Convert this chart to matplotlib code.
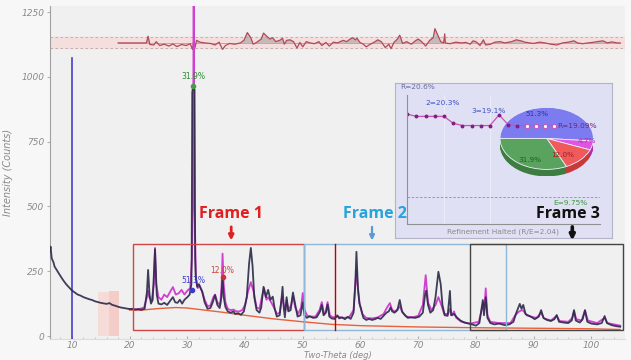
import matplotlib
matplotlib.use('Agg')
import matplotlib.pyplot as plt
import numpy as np
from matplotlib.patches import Rectangle, Wedge, FancyArrowPatch

obs_tt = [6.2, 6.3, 6.5, 6.8, 7.0, 7.5, 8.0, 8.5, 9.0, 9.5, 10.0, 10.5, 11.0, 11.5, 12.0, 12.5,
          13.0, 13.5, 14.0, 14.5, 15.0, 15.5, 16.0, 16.5, 17.0, 17.5, 18.0, 18.5, 19.0, 19.5,
          20.0, 20.5, 21.0, 21.5, 22.0, 22.6, 23.0, 23.2, 23.45, 23.7, 24.0, 24.4, 24.7, 25.0,
          25.5, 26.0, 26.5, 27.0, 27.5, 27.9, 28.3, 28.7, 29.1, 29.5, 30.0, 30.4, 30.7, 30.75,
          30.85, 31.0, 31.25, 31.35, 31.45, 31.7, 32.0, 32.3, 32.6, 33.0, 33.5, 34.0, 34.4, 34.8,
          35.2, 35.6, 35.9, 36.1, 36.3, 36.6, 37.0, 37.5, 38.0, 38.3, 38.8, 39.3, 39.8, 40.3,
          40.7, 41.0, 41.3, 41.6, 42.0, 42.5, 42.8, 43.2, 43.6, 44.0, 44.4, 44.8, 45.1, 45.5,
          46.0, 46.3, 46.5, 46.7, 46.9, 47.2, 47.5, 47.9, 48.3, 48.7, 49.1, 49.6, 50.0, 50.3,
          50.7, 51.2, 51.8, 52.4, 53.0, 53.3, 53.6, 54.0, 54.3, 54.6, 55.0, 55.5, 56.0, 56.3,
          56.8, 57.3, 57.8, 58.3, 58.8, 59.1, 59.3, 59.55, 59.8, 60.1, 60.5, 61.0, 61.5, 62.0,
          62.5, 63.0, 63.5, 64.0, 64.5, 64.9, 65.2, 65.5, 65.9, 66.4, 66.8, 67.2, 67.7, 68.2,
          68.8, 69.5, 70.2, 70.8, 71.2, 71.4, 71.7, 72.1, 72.6, 73.0, 73.5, 73.9, 74.2, 74.6,
          75.1, 75.4, 75.5, 75.7, 76.2, 76.7, 77.3, 78.0, 78.7, 79.3, 80.0, 80.6, 81.0, 81.2,
          81.4, 81.7, 82.0, 82.5, 83.2, 84.0, 85.0, 85.8, 86.5, 87.0, 87.6, 87.9, 88.2, 88.6,
          89.0, 89.5, 90.2, 90.9, 91.3, 91.7, 92.3, 93.0, 93.6, 94.0, 94.4, 95.2, 96.0, 96.6,
          97.0, 97.3, 98.0, 98.5, 98.9, 99.3, 100.0, 101.0, 101.8, 102.3, 102.7, 103.5, 104.3, 105.0]
obs_i = [330, 345, 300, 285, 268, 250, 232, 215, 200, 188, 176, 168, 160, 156, 150, 146,
         142, 139, 134, 131, 128, 126, 124, 127, 120, 117, 113, 110, 108, 106,
         104, 105, 102, 104, 101, 105, 170, 255, 160, 125, 140, 335, 160, 125,
         122, 128, 120, 135, 150, 130, 128, 140, 125, 140, 150, 160, 200, 300,
         940, 965, 950, 300, 230, 190, 200, 185, 170, 130, 105, 108, 130, 158,
         120, 108, 150, 228, 150, 112, 95, 90, 95, 85, 88, 82, 95, 150,
         280, 340, 270, 150, 100, 90, 110, 190, 150, 178, 140, 152, 110, 75,
         80, 140, 190, 110, 72, 150, 95, 100, 168, 120, 75, 80, 130, 80,
         70, 76, 70, 72, 95, 120, 80, 90, 122, 75, 68, 66, 80, 68,
         72, 65, 74, 66, 90, 200, 325, 190, 127, 105, 70, 62, 66, 62,
         65, 70, 66, 78, 90, 95, 110, 95, 90, 100, 139, 95, 80, 70,
         72, 70, 75, 90, 160, 175, 120, 90, 100, 150, 248, 200, 120, 80,
         78, 150, 174, 80, 85, 72, 60, 52, 48, 45, 40, 50, 110, 139,
         80, 150, 70, 50, 45, 48, 42, 45, 55, 90, 124, 105, 120, 85,
         80, 75, 65, 75, 100, 70, 62, 58, 65, 81, 55, 52, 50, 60,
         100, 60, 52, 65, 100, 55, 48, 45, 50, 77, 50, 42, 38, 36]

# calculated pattern
calc_tt = [20.0, 21.5, 22.5, 23.0, 23.2, 23.4, 23.8, 24.2, 24.4, 24.6, 25.0, 25.5, 26.0, 26.5,
           27.0, 27.5, 28.0, 28.5, 29.0, 29.5, 30.0, 30.5, 30.8, 30.95, 31.1, 31.25, 31.5,
           31.8, 32.1, 32.5, 33.0, 33.5, 34.0, 34.5, 34.8, 35.2, 35.7, 35.95, 36.1, 36.3,
           36.6, 37.0, 37.5, 38.0, 38.5, 39.0, 39.5, 40.0, 40.5, 41.0, 41.5, 42.0, 42.5,
           43.0, 43.3, 43.7, 44.0, 44.5, 45.0, 45.5, 46.0, 46.4, 46.6, 47.0, 47.2, 47.5,
           48.0, 48.3, 48.7, 49.2, 49.7, 50.0, 50.3, 50.8, 51.5, 52.2, 52.9, 53.3, 53.7,
           54.0, 54.3, 54.7, 55.2, 56.0, 57.0, 58.0, 58.8, 59.1, 59.3, 59.6, 59.9, 60.3,
           61.0, 62.0, 63.0, 64.0, 64.6, 65.1, 65.5, 66.0, 66.5, 66.8, 67.3, 68.0, 69.0,
           70.0, 70.8, 71.3, 71.7, 72.3, 73.0, 73.5, 74.0, 74.5, 75.2, 75.5, 75.9, 76.2,
           76.6, 77.5, 79.0, 80.5, 81.0, 81.3, 81.5, 81.7, 82.0, 82.5, 84.0, 86.0, 86.8,
           87.5, 88.0, 88.3, 88.8, 89.5, 90.5, 91.3, 91.8, 93.0, 94.0, 94.5, 96.0, 96.7,
           97.0, 97.4, 98.3, 98.9, 99.4, 101.0, 102.3, 102.8, 105.0]
calc_i = [104, 103, 110, 150, 175, 150, 135, 200, 340, 200, 150, 140, 160, 150,
          170, 189, 160, 165, 178, 160, 175, 185, 300, 500, 1290, 500, 220,
          185, 195, 175, 140, 115, 118, 150, 160, 130, 120, 200, 318, 200,
          130, 105, 100, 102, 95, 95, 100, 120, 170, 208, 170, 110, 105,
          160, 185, 140, 150, 131, 110, 85, 90, 150, 130, 100, 140, 100,
          120, 155, 110, 85, 110, 166, 100, 78, 75, 75, 100, 131, 85,
          95, 131, 80, 72, 75, 70, 72, 100, 200, 255, 170, 120, 85,
          70, 68, 72, 85, 110, 127, 100, 95, 105, 115, 90, 75, 72,
          78, 120, 235, 130, 100, 120, 150, 120, 85, 85, 105, 80, 95,
          70, 55, 48, 55, 100, 130, 120, 184, 80, 55, 50, 50, 80,
          95, 100, 95, 80, 75, 70, 90, 68, 60, 78, 58, 55, 70,
          95, 65, 60, 98, 60, 50, 70, 50, 40]

bg_tt = [20, 22, 25, 28, 30, 33, 36, 40, 45, 50, 55, 60, 70, 80, 90, 100, 105]
bg_i = [100, 100, 106, 110, 108, 100, 92, 80, 66, 55, 45, 40, 35, 32, 30, 28, 25]

# difference curve (deviation from its baseline)
diff_base = 1131
diff_tt = [18, 22.9, 23.2, 23.5, 24.2, 24.6, 25.2, 26, 26.8, 27.5, 28.2, 29, 29.8, 30.5, 30.9,
           31.1, 31.3, 31.6, 32.2, 33, 34, 34.8, 35.5, 36.1, 36.6, 37.3, 38.2, 39.2, 39.8,
           40.4, 41.0, 41.4, 42, 42.8, 43.2, 43.8, 44.3, 44.8, 45.3, 46, 46.5, 46.8, 47.2,
           47.8, 48.4, 49, 49.5, 50, 50.6, 51.3, 52, 52.8, 53.3, 54, 54.6, 55.3, 56, 57,
           57.6, 58.2, 58.7, 59.1, 59.4, 59.9, 60.5, 61, 61.7, 62.4, 63, 63.6, 64.3, 64.9,
           65.3, 65.8, 66.4, 66.8, 67.3, 68, 68.8, 69.5, 70, 70.6, 71.3, 72.0, 72.6, 72.9,
           73.4, 73.9, 74.4, 74.6, 74.7, 75.5, 76.5, 77.5, 78.3, 79, 79.5, 80, 80.7, 81.3,
           81.7, 82.5, 83.3, 84.2, 85, 86.2, 87, 87.8, 88.5, 89.3, 90, 91, 92, 93, 94, 95,
           96, 97, 97.6, 98.5, 99.4, 100.2, 101, 102, 102.8, 103.5, 104.5, 105]
diff_dev = [0, 0, 26, -6, -8, 5, -10, -5, -12, -4, -14, -6, -10, -3, -25,
            8, -20, 10, 3, 0, -2, -8, 3, -25, -10, -2, -5, 0, 10,
            40, 20, -5, 2, 15, 38, 25, 15, 20, 5, 10, 18, -5, 10,
            12, 5, -20, 2, -15, 5, 0, -3, 5, -10, 2, -12, 3, 0, 10,
            5, 15, 20, 12, 18, 2, -5, -15, -5, 3, 12, 5, -18, -5,
            -22, 2, 15, 30, -2, 5, -5, 8, 15, 5, -12, 10, 20, 55,
            30, 5, 0, 35, 0, -3, 3, 0, 2, -5, 8, 5, -10, 12,
            -8, -5, 3, 5, 0, 5, 12, 8, 3, 0, -2, 3, 0, -5, -8, 0,
            3, 8, 0, -3, 0, 2, 5, 8, 0, 4, 0, 0]

# refinement history in the inset
r_iter = list(range(17))
r_vals = [20.6, 20.3, 20.3, 20.3, 20.3, 19.4, 19.1, 19.1, 19.1, 19.1, 20.5, 19.2, 19.1,
          19.09, 19.09, 19.09, 19.09]
e_val = 9.75

phase_names = ['51.3%', '4.7%', '12.0%', '31.9%']
phase_frac = [51.3, 4.7, 12.0, 31.9]
phase_top = ['#7c7cf0', '#e055e0', '#ef5b5b', '#5aa35e']
phase_side = ['#5050c0', '#b030b0', '#c83a3a', '#3d7d41']
phase_txt = ['#3030a0', '#c020c0', '#a02020', '#1f5f1f']

frames = [('Frame 1', 20.6, 50.2, '#d04545', '#e02020', 37.6),
          ('Frame 2', 50.2, 85.2, '#8fb8d8', '#29a3dc', 62.0),
          ('Frame 3', 79.0, 105.5, '#444444', '#111111', 96.7)]

fig = plt.figure(figsize=(6.31, 3.60), dpi=100, facecolor='#f7f7f7')
ax = fig.add_axes([0.0792, 0.0594, 0.911, 0.925])
ax.set_facecolor('#f0f0f0')
ax.set_xlim(6.2, 105.8)
ax.set_ylim(-10, 1275)

# difference band at the top
ax.axhspan(1112, 1154, color='#f4dede', zorder=1)
ax.axhline(1112, color='#b8a8a8', lw=0.6, ls=(0, (3, 3)), zorder=1)
ax.axhline(1154, color='#b8a8a8', lw=0.6, ls=(0, (3, 3)), zorder=1)
d = diff_base + np.array(diff_dev)
ax.fill_between(diff_tt, diff_base, d, where=np.array(diff_dev) > 0, interpolate=True,
                color='#a8a0a0', alpha=0.6, lw=0, zorder=2)
ax.plot([18, 105], [diff_base, diff_base], color='#d89090', lw=0.6, zorder=2)
ax.plot(diff_tt, d, color='#b04a5a', lw=0.9, zorder=3)

# excluded region
ax.fill_between([14.5, 16.5], 0, 170, color='#f6dcd8', lw=0, zorder=1)
ax.fill_between([16.5, 18.1], 0, 175, color='#f4cdc8', lw=0, zorder=1)

# marker line at 10 deg
ax.plot([10, 10], [-10, 1073], color='#4a3ec8', lw=1.2, zorder=4)

ax.plot(bg_tt, bg_i, color='#e8603c', lw=1.0, zorder=3)
ax.plot(calc_tt, calc_i, color='#d040d0', lw=1.3, zorder=4)
ax.plot(obs_tt, obs_i, color='#2a2a48', lw=1.3, alpha=0.9, zorder=5)

# phase labels
ax.plot(31.05, 965, 'o', ms=3, color='#4a9a4a', zorder=6)
ax.text(31.05, 985, '31.9%', color='#2a8a2a', fontsize=5.5, ha='center', va='bottom', zorder=6)
ax.plot(30.8, 178, 'o', ms=3, color='#3a3ad0', zorder=6)
ax.text(31.0, 216, '51.3%', color='#3a3ad0', fontsize=5.5, ha='center', va='center', zorder=6)
ax.plot(36.1, 228, 'o', ms=3, color='#d03030', zorder=6)
ax.text(36.0, 251, '12.0%', color='#d04040', fontsize=5.5, ha='center', va='center', zorder=6)

# frames
for name, x0, x1, ec, tc, xa in frames:
    ax.add_patch(Rectangle((x0, 23), x1 - x0, 332, fill=False, ec=ec, lw=1.0, zorder=6))
ax.plot([55.5, 55.5], [23, 355], color='#c00000', lw=1.0, zorder=6)

ax.set_xticks(range(10, 101, 10))
ax.set_xticks(range(8, 105, 2), minor=True)
ax.set_yticks([0, 250, 500, 750, 1000, 1250])
ax.tick_params(axis='both', labelsize=6.5, labelcolor='#8a8a8a', color='#b0b0b0', length=2.5, pad=1.5)
ax.tick_params(axis='x', which='both', direction='in', pad=1.5)
ax.tick_params(axis='x', which='minor', length=1.5, color='#c0c0c0')
for lab in ax.get_xticklabels() + ax.get_yticklabels():
    lab.set_fontstyle('italic')
ax.set_ylabel('Intensity (Counts)', fontsize=7, color='#888888', style='italic', labelpad=6)
ax.set_xlabel('Two-Theta (deg)', fontsize=6, color='#888888', style='italic')
ax.xaxis.set_label_coords(0.5, -0.036)
for s in ['top', 'right']:
    ax.spines[s].set_visible(False)
ax.spines['left'].set_color('#a0a0a0')
ax.spines['bottom'].set_color('#dcdcdc')

# inset box
ibg = fig.add_axes([0.626, 0.339, 0.344, 0.431])
ibg.set_facecolor('#dfe0f3')
ibg.set_xticks([])
ibg.set_yticks([])
for s in ibg.spines.values():
    s.set_color('#b4b4c8')

# pie (pseudo 3d)
pax = fig.add_axes([0.7924, 0.510, 0.148, 0.1917])
pax.set_xlim(-1, 1)
pax.set_ylim(-1.225, 1)
pax.axis('off')
angles = []
start = 180.0
for f in phase_frac:
    sweep = 360.0 * f / sum(phase_frac)
    angles.append((start - sweep, start))
    start -= sweep
for dy in np.linspace(-0.225, 0, 10):
    for (t1, t2), c in zip(angles, phase_side):
        pax.add_patch(Wedge((0, dy), 1.0, t1, t2, color=c, lw=0))
for (t1, t2), c in zip(angles, phase_top):
    pax.add_patch(Wedge((0, 0), 1.0, t1, t2, fc=c, ec='#f0f0ff', lw=0.6))
pie_pos = [(-0.21, 0.78), (0.85, -0.09), (0.35, -0.52), (-0.36, -0.70)]
for (px, py), t, c in zip(pie_pos, phase_names, phase_txt):
    pax.text(px, py, t, color=c, fontsize=5.2, ha='center', va='center')

# R history
rax = fig.add_axes([0.645, 0.378, 0.306, 0.358])
rax.patch.set_alpha(0)
rax.set_xlim(-0.03, 21)
rax.set_ylim(6.2, 23.1)
rax.set_xticks([])
rax.set_yticks([])
for s in ['top', 'right']:
    rax.spines[s].set_visible(False)
rax.spines['left'].set_color('#909090')
rax.spines['bottom'].set_color('#909090')
rax.axvline(4, color='#ececf8', lw=0.8)
rax.axvline(9, color='#ececf8', lw=0.8)
rax.axhline(e_val, color='#909090', lw=0.6, ls=(0, (3, 2)))
rax.plot(r_iter, r_vals, color='#d050b0', lw=0.9, marker='o', ms=1.8, mfc='#802080', mec='#802080')
rax.plot(r_iter[13:], r_vals[13:], 'o', ms=3, mfc='white', mec='#d050b0', mew=0.7, ls='none')
rax.text(-0.8, 24.2, 'R=20.6%', color='#6a6aa0', fontsize=5.3, ha='left', va='center', clip_on=False)
rax.text(3.9, 22.1, '2=20.3%', color='#4050c0', fontsize=5.3, ha='center', va='center')
rax.text(8.9, 21.0, '3=19.1%', color='#4050c0', fontsize=5.3, ha='center', va='center')
rax.text(16.3, 19.09, 'R=19.09%', color='#6a2a7a', fontsize=5.3, ha='left', va='center')
rax.text(17.8, 8.95, 'E=9.75%', color='#3a9a3a', fontsize=5.3, ha='center', va='center')
rax.text(10.4, 5.2, 'Refinement Halted (R/E=2.04)', color='#8a8a8a', fontsize=5.3,
         ha='center', va='center', clip_on=False)

# frame labels and arrows drawn over everything
for name, x0, x1, ec, tc, xa in frames:
    xt = {'Frame 1': 37.6, 'Frame 2': 62.5, 'Frame 3': 96.0}[name]
    fig.text(xt, 471, name, transform=ax.transData, color=tc, fontsize=11.5,
             fontweight='bold', family='Open Sans', ha='center', va='center', zorder=10)
    lw = {'Frame 1': 2.0, 'Frame 2': 1.6, 'Frame 3': 2.6}[name]
    arr = FancyArrowPatch((xa, 432), (xa, 358), transform=ax.transData, arrowstyle='-|>',
                          mutation_scale=7, color=tc if name != 'Frame 2' else '#5b9bd5',
                          lw=lw, zorder=10)
    fig.add_artist(arr)

fig.savefig('out.png', dpi=100, facecolor=fig.get_facecolor())
